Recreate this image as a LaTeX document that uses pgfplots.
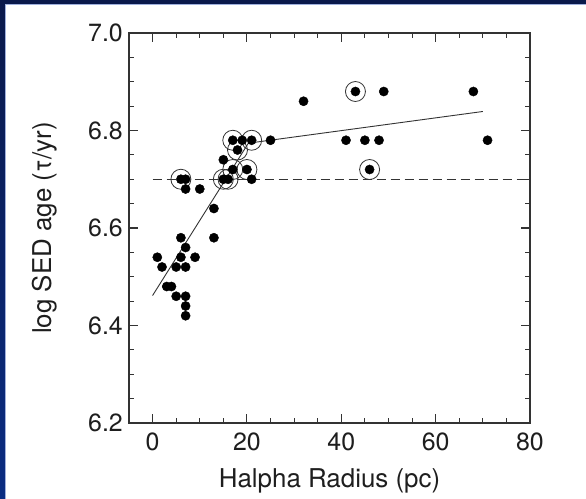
\documentclass[border=0pt]{standalone}
\usepackage{pgfplots}
\pgfplotsset{compat=1.18}
\usepackage{fontspec}
\setmainfont{TeX Gyre Heros}
\definecolor{navytop}{HTML}{0A194B}
\definecolor{navybot}{HTML}{0A2C82}
\definecolor{edgeblue}{HTML}{9FB0DD}
\definecolor{ink}{HTML}{1E1E1E}
\definecolor{axisgray}{HTML}{333333}
\begin{document}
\begin{tikzpicture}
\fill[white] (0bp,0bp) rectangle (586bp,499bp);
\shade[top color=navytop, bottom color=navybot] (0bp,0bp) rectangle (5bp,499bp);
\fill[navytop] (0bp,495bp) rectangle (586bp,499bp);
\draw[edgeblue, line width=1bp] (5.5bp,0bp) -- (5.5bp,494.5bp) -- (586bp,494.5bp);
\begin{axis}[
  at={(129bp,76bp)}, anchor=south west,
  scale only axis, width=401bp, height=390bp,
  xmin=-5, xmax=80, ymin=6.2, ymax=7.0,
  xtick={0,20,40,60,80}, ytick={6.2,6.4,6.6,6.8,7.0},
  minor x tick num=3, minor y tick num=3,
  tick align=inside, tick pos=both,
  major tick length=9bp, minor tick length=5bp,
  every tick/.style={axisgray, line width=1.1bp},
  axis line style={axisgray, line width=1.5bp},
  /pgf/number format/assume math mode=true,
  yticklabel style={/pgf/number format/fixed, /pgf/number format/fixed zerofill, /pgf/number format/precision=1, xshift=-2.7bp},
  tick label style={font=\fontsize{25}{29}\selectfont, text=ink},
  xticklabel style={yshift=-6bp},
  label style={font=\fontsize{26}{30}\selectfont, text=ink},
  xlabel={Halpha Radius (pc)},
  ylabel={log SED age (τ/yr)},
  xlabel style={at={(axis description cs:0.5,0)}, anchor=center, yshift=-58bp},
  ylabel style={at={(axis description cs:-0.2095,0.5)}, anchor=center},
  clip=false,
]
\addplot[axisgray, line width=1.4bp, dash pattern=on 9bp off 5bp] coordinates {(0,6.7) (80,6.7)};
\addplot[axisgray, line width=0.9bp] coordinates {(0,6.4615) (20.3,6.774)};
\addplot[axisgray, line width=0.9bp] coordinates {(20.3,6.774) (70,6.839)};
\addplot[only marks, mark=o, mark size=10bp, mark options={draw=axisgray, line width=0.8bp}] coordinates {
(6,6.70) (15,6.70) (16,6.70) (17,6.72) (20,6.72) (18,6.76) (17,6.78) (21,6.78) (43,6.88) (46,6.72)
};
\addplot[only marks, mark=*, mark size=4.6bp, mark options={fill=black, draw=black}] coordinates {
(1,6.54) (2,6.52) (3,6.48) (4,6.48) (5,6.46) (5,6.52) (6,6.54) (6,6.58) (6,6.70)
(7,6.70) (7,6.68) (7,6.56) (7,6.52) (7,6.46) (7,6.44) (7,6.42) (9,6.54) (10,6.68)
(13,6.64) (13,6.58) (15,6.74) (15,6.70) (16,6.70) (17,6.72) (17,6.78) (18,6.76)
(19,6.78) (20,6.72) (21,6.78) (21,6.70) (25,6.78) (32,6.86) (41,6.78) (43,6.88)
(45,6.78) (46,6.72) (48,6.78) (49,6.88) (68,6.88) (71,6.78)
};
\end{axis}
\pgfresetboundingbox
\path[use as bounding box] (0bp,0bp) rectangle (586bp,499bp);
\end{tikzpicture}
\end{document}
